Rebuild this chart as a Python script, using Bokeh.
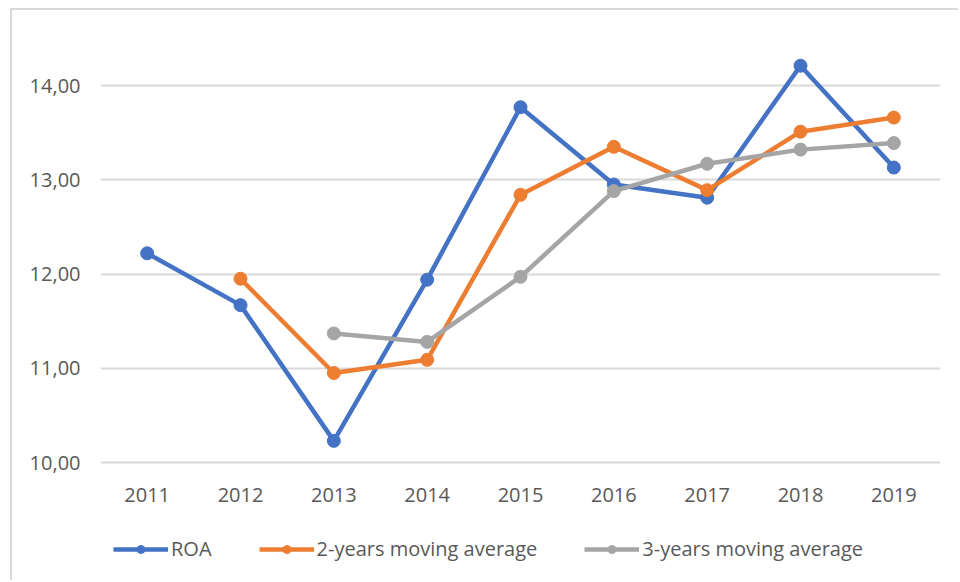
from bokeh.plotting import figure
from bokeh.models import FactorRange, Range1d, FixedTicker, Legend, LegendItem, ColumnDataSource
from bokeh.embed import file_html
from bokeh.resources import INLINE

years = ["2011", "2012", "2013", "2014", "2015", "2016", "2017", "2018", "2019"]
roa = [12.22, 11.67, 10.23, 11.94, 13.77, 12.95, 12.81, 14.21, 13.13]
ma2_years = ["2012", "2013", "2014", "2015", "2016", "2017", "2018", "2019"]
ma2 = [11.95, 10.95, 11.09, 12.84, 13.35, 12.89, 13.51, 13.66]
ma3_years = ["2013", "2014", "2015", "2016", "2017", "2018", "2019"]
ma3 = [11.37, 11.28, 11.97, 12.88, 13.17, 13.32, 13.39]
y_ticks = [10, 11, 12, 13, 14]
y_tick_labels = ["10,00", "11,00", "12,00", "13,00", "14,00"]

FONT = "Open Sans"
TXT = "#595959"

p = figure(width=948, height=572, x_range=FactorRange(*years), y_range=Range1d(8.897, 14.499),
           output_backend="svg", toolbar_location=None,
           min_border_left=88, min_border_right=20, min_border_top=28, min_border_bottom=16)
p.outline_line_color = None
p.styles = {"margin-left": "10px", "margin-top": "8px",
            "border-top": "2px solid #d9d9d9", "border-left": "2px solid #d9d9d9"}

for ax in (p.xaxis[0], p.yaxis[0]):
    ax.axis_line_color = None
    ax.major_tick_line_color = None
    ax.minor_tick_line_color = None
    ax.major_label_text_font = FONT
    ax.major_label_text_font_size = "20px"
    ax.major_label_text_color = TXT

p.xaxis[0].fixed_location = 10
p.yaxis[0].ticker = FixedTicker(ticks=y_ticks)
p.yaxis[0].major_label_overrides = {t: l for t, l in zip(y_ticks, y_tick_labels)}
p.yaxis[0].major_label_standoff = 14
p.xaxis[0].major_label_standoff = 19

p.xgrid.grid_line_color = None
p.ygrid.grid_line_color = "#d9d9d9"
p.ygrid.grid_line_width = 2
p.ygrid.ticker = FixedTicker(ticks=y_ticks)

series = [
    ("ROA", years, roa, "#4472C4"),
    ("2-years moving average", ma2_years, ma2, "#ED7D31"),
    ("3-years moving average", ma3_years, ma3, "#A5A5A5"),
]
items = []
for name, xs, ys, col in series:
    src = ColumnDataSource(dict(x=xs, y=ys))
    l = p.line("x", "y", source=src, line_color=col, line_width=4.5)
    s = p.scatter("x", "y", source=src, size=13, fill_color=col, line_color=col)
    items.append(LegendItem(label=name, renderers=[l, s]))

legend = Legend(items=items, orientation="horizontal", location=(13, 4),
                glyph_width=55, glyph_height=20, label_standoff=3, spacing=47,
                padding=0, margin=0, border_line_color=None, background_fill_alpha=0,
                label_text_font=FONT, label_text_font_size="20px", label_text_color=TXT)
p.add_layout(legend, "center")

open("out.html", "w").write(file_html(p, INLINE))
